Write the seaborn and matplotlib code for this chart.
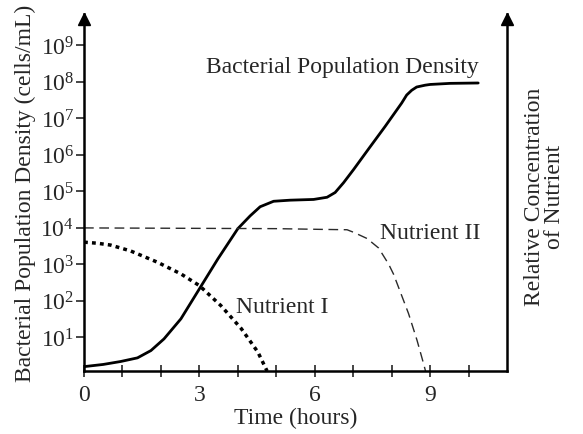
import numpy as np
import pandas as pd
import matplotlib
matplotlib.use("Agg")
import matplotlib.pyplot as plt
import seaborn as sns

# values (log10 of cells/mL, hours)
bact_t = [0.0, 0.5, 0.95, 1.39, 1.74, 2.08, 2.52, 3.0, 3.48, 4.0, 4.32, 4.58,
          4.93, 5.36, 5.97, 6.32, 6.53, 6.75, 7.01, 7.39, 7.83, 8.26, 8.39,
          8.52, 8.65, 8.87, 9.0, 9.52, 10.25]
bact_log = [0.19, 0.25, 0.33, 0.43, 0.63, 0.95, 1.50, 2.32, 3.14, 3.97, 4.32, 4.57,
            4.72, 4.75, 4.77, 4.83, 4.96, 5.23, 5.59, 6.14, 6.77, 7.41, 7.63,
            7.76, 7.85, 7.90, 7.92, 7.95, 7.96]

nut1_t = [0.0, 0.35, 0.69, 1.21, 1.91, 2.52, 3.0, 3.56, 4.09, 4.52, 4.76]
nut1_log = [3.60, 3.57, 3.52, 3.36, 3.05, 2.73, 2.41, 1.86, 1.23, 0.59, 0.07]

nut2_t = [0.0, 5.0, 6.17, 6.84, 7.01, 7.36, 7.66, 7.92, 8.05, 8.18, 8.44, 8.66, 8.83, 8.88]
nut2_log = [3.99, 3.97, 3.95, 3.94, 3.87, 3.70, 3.44, 3.00, 2.72, 2.36, 1.64, 0.91, 0.27, 0.07]

ytick_pow = [1, 2, 3, 4, 5, 6, 7, 8, 9]
xtick_major = [0, 3, 6, 9]
xtick_minor = [1, 2, 4, 5, 7, 8, 10]

sns.set_style("ticks")
plt.rcParams['font.family'] = ['Liberation Serif', 'DejaVu Serif']
plt.rcParams['mathtext.fontset'] = 'custom'
plt.rcParams['mathtext.rm'] = 'Liberation Serif'
plt.rcParams['mathtext.it'] = 'Liberation Serif:italic'

fs = 17

fig = plt.figure(figsize=(5.83, 4.35), dpi=100)
ax = fig.add_axes([0.1441, 0.1448, 0.7256, 0.8207])

bact = pd.DataFrame({'t': bact_t, 'v': 10 ** np.array(bact_log)})
n1 = pd.DataFrame({'t': nut1_t, 'v': 10 ** np.array(nut1_log)})
n2 = pd.DataFrame({'t': nut2_t, 'v': 10 ** np.array(nut2_log)})

sns.lineplot(data=bact, x='t', y='v', ax=ax, color='black', lw=2.0)
sns.lineplot(data=n1, x='t', y='v', ax=ax, color='black', lw=2.5,
             linestyle=(0, (1.1, 1.2)))
sns.lineplot(data=n2, x='t', y='v', ax=ax, color='#2a2a2a', lw=1.0,
             linestyle=(0, (7, 4)))

ax.set_yscale('log')
ax.set_xlim(0, 11)
ax.set_ylim(10 ** 0.07, 10 ** 9.85)

ax.set_yticks([10.0 ** p for p in ytick_pow])
ax.set_yticklabels(['$10^{%d}$' % p for p in ytick_pow], fontsize=fs)
ax.yaxis.set_minor_locator(matplotlib.ticker.NullLocator())
ax.set_xticks(xtick_major)
ax.set_xticklabels([str(v) for v in xtick_major], fontsize=fs)
ax.set_xticks(xtick_minor, minor=True)

ax.tick_params(axis='y', left=True, direction='out', length=6, width=1.2, pad=1)
ax.tick_params(axis='x', which='both', bottom=True, direction='inout',
               length=9, width=1.2, pad=5)

for s in ['left', 'bottom', 'right']:
    ax.spines[s].set_linewidth(1.8)
    ax.spines[s].set_color('black')
ax.spines['top'].set_visible(False)

# arrow heads on the two vertical axes
ax.plot([0, 1], [0.985, 0.985], ls='none', marker='^', ms=8, color='black',
        transform=ax.transAxes, clip_on=False)

ax.set_xlabel('Time (hours)', fontsize=fs, labelpad=1)
ax.set_ylabel('Bacterial Population Density (cells/mL)', fontsize=fs, labelpad=3)

fig.text(0.934, 0.548, 'Relative Concentration\nof Nutrient', rotation=90,
         ha='center', va='center', fontsize=fs, linespacing=0.95)

ax.text(3.16, 10 ** 8.40, 'Bacterial Population Density', fontsize=fs, va='center')
ax.text(7.70, 10 ** 3.87, 'Nutrient II', fontsize=fs, va='center')
ax.text(3.96, 10 ** 1.85, 'Nutrient I', fontsize=fs, va='center')

fig.savefig('out.png', dpi=100)
